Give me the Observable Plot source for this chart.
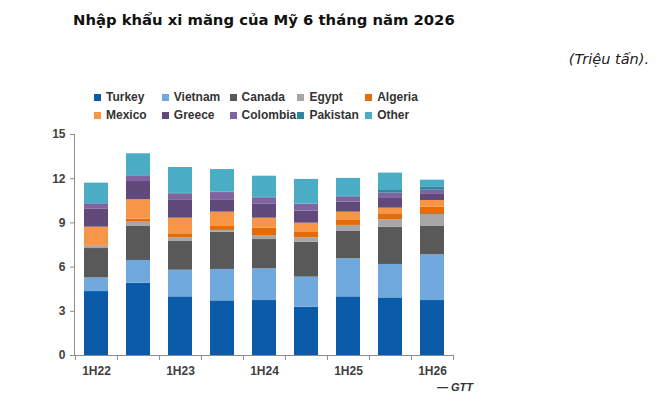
<!DOCTYPE html>
<html>
<head>
<meta charset="utf-8">
<script src="https://cdn.jsdelivr.net/npm/d3@7"></script>
<script src="https://cdn.jsdelivr.net/npm/@observablehq/plot@0.6"></script>
<style>
  body { margin: 0; background: #fff; }
  #root { position: relative; width: 660px; height: 416px; background: #fff; overflow: hidden; }
  #title { position: absolute; left: 73px; top: 11px; font-family: "DejaVu Sans", sans-serif; font-weight: 700; font-size: 14.8px; color: #111; white-space: nowrap; }
  #unit { position: absolute; right: 11px; top: 51px; font-family: "DejaVu Sans", sans-serif; font-style: italic; font-size: 14.5px; color: #222; white-space: nowrap; }
  #legend { position: absolute; left: 0; top: 0; font-family: "Liberation Sans", Arial, sans-serif; font-weight: bold; font-size: 12px; color: #333; }
  .li { position: absolute; display: flex; align-items: center; white-space: nowrap; }
  .sw { width: 7px; height: 7px; margin-right: 5px; }
  #chart { position: absolute; left: 0; top: 120px; }
  #source { position: absolute; right: 187px; top: 381px; font-family: "Liberation Sans", Arial, sans-serif; font-style: italic; font-weight: bold; font-size: 11px; color: #333; }
</style>
</head>
<body>
<div id="root">
  <div id="title">Nhập khẩu xi măng của Mỹ 6 tháng năm 2026</div>
  <div id="unit">(Triệu tấn).</div>
  <div id="legend"></div>
  <div id="chart"></div>
  <div id="source">— GTT</div>
</div>
<script>
// ---- data ----
const periods = ["1H22","2H22","1H23","2H23","1H24","2H24","1H25","2H25","1H26"];
const labeledPeriods = ["1H22","1H23","1H24","1H25","1H26"];
const countries = ["Turkey","Vietnam","Canada","Egypt","Algeria","Mexico","Greece","Colombia","Pakistan","Other"];
const colors = ["#0b5ca8","#70a9dd","#595959","#a6a6a6","#e46c0a","#f79646","#604a7b","#8064a2","#31859c","#4bacc6"];
const yTicks = [0,3,6,9,12,15];

const turkey   = [4.34, 4.91, 3.98, 3.71, 3.73, 3.28, 3.98, 3.91, 3.73];
const vietnam  = [0.93, 1.54, 1.81, 2.13, 2.15, 2.04, 2.58, 2.27, 3.10];
const canada   = [1.99, 2.31, 1.95, 2.53, 1.99, 2.37, 1.86, 2.53, 1.93];
const egypt    = [0.18, 0.29, 0.25, 0.12, 0.27, 0.30, 0.41, 0.50, 0.81];
const algeria  = [0.02, 0.20, 0.27, 0.27, 0.50, 0.36, 0.38, 0.41, 0.50];
const mexico   = [1.25, 1.32, 1.06, 0.97, 0.68, 0.63, 0.52, 0.38, 0.45];
const greece   = [1.24, 1.24, 1.25, 0.84, 0.97, 0.82, 0.68, 0.71, 0.46];
const colombia = [0.34, 0.38, 0.40, 0.49, 0.41, 0.45, 0.34, 0.31, 0.24];
const pakistan = [0.02, 0.02, 0.03, 0.03, 0.03, 0.03, 0.05, 0.18, 0.19];
const other    = [1.39, 1.48, 1.76, 1.53, 1.44, 1.67, 1.22, 1.18, 0.49];

const series = [turkey, vietnam, canada, egypt, algeria, mexico, greece, colombia, pakistan, other];

const data = [];
periods.forEach((p, i) => {
  countries.forEach((c, j) => data.push({period: p, country: c, value: series[j][i]}));
});

// ---- legend ----
const legend = document.getElementById("legend");
countries.forEach((c, j) => {
  const row = Math.floor(j / 5), col = j % 5;
  const item = document.createElement("div");
  item.className = "li";
  item.style.left = (94 + col * 67.8) + "px";
  item.style.top = (90 + row * 18) + "px";
  item.innerHTML = `<span class="sw" style="background:${colors[j]}"></span><span>${c}</span>`;
  legend.appendChild(item);
});

// ---- chart ----
const W = 473, mL = 74, mR = 20;
const step = (W - mL - mR) / periods.length;
const axisColor = "#8c8c8c";

const chart = Plot.plot({
  width: W,
  height: 265,
  marginLeft: mL,
  marginRight: mR,
  marginTop: 14,
  marginBottom: 30,
  style: {fontFamily: "'Liberation Sans', Arial, sans-serif", fontSize: "12px", fontWeight: "bold", color: "#404040", background: "transparent"},
  x: {domain: periods, paddingInner: 0.43, paddingOuter: 0.215},
  y: {domain: [0, 15]},
  color: {domain: countries, range: colors},
  marks: [
    Plot.barY(data, {x: "period", y: "value", fill: "country", order: countries}),
    Plot.frame({anchor: "left", stroke: axisColor}),
    Plot.frame({anchor: "bottom", stroke: axisColor}),
    Plot.axisY({ticks: yTicks, tickSize: 4, tickPadding: 5, stroke: axisColor, fill: "#404040", label: null}),
    Plot.axisX({ticks: labeledPeriods, tickSize: 0, tickPadding: 11, fill: "#404040", label: null}),
    Plot.ruleX(periods, {x: d => d, y1: 0, y2: 0, insetBottom: -5, dx: -step / 2, stroke: axisColor}),
    Plot.ruleX(periods.slice(-1), {x: d => d, y1: 0, y2: 0, insetBottom: -5, dx: step / 2, stroke: axisColor})
  ]
});
document.getElementById("chart").appendChild(chart);
</script>
</body>
</html>
